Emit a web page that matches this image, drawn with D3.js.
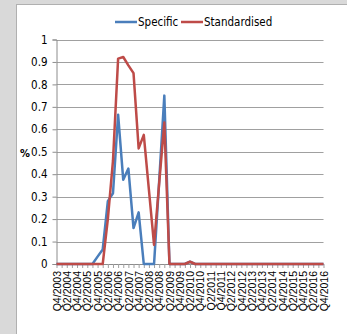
<!DOCTYPE html>
<html>
<head>
<meta charset="utf-8">
<script src="https://cdn.jsdelivr.net/npm/d3@7"></script>
<style>
    html, body { margin: 0; padding: 0; background: #d9d9d9; }
    svg { display: block; }
</style>
</head>
<body>
<svg id="chart" width="347" height="334"></svg>
<script>
// quarters on the category axis
const quarters = [
    "Q4/2003",
    "Q1/2004", "Q2/2004", "Q3/2004", "Q4/2004",
    "Q1/2005", "Q2/2005", "Q3/2005", "Q4/2005",
    "Q1/2006", "Q2/2006", "Q3/2006", "Q4/2006",
    "Q1/2007", "Q2/2007", "Q3/2007", "Q4/2007",
    "Q1/2008", "Q2/2008", "Q3/2008", "Q4/2008",
    "Q1/2009", "Q2/2009", "Q3/2009", "Q4/2009",
    "Q1/2010", "Q2/2010", "Q3/2010", "Q4/2010",
    "Q1/2011", "Q2/2011", "Q3/2011", "Q4/2011",
    "Q1/2012", "Q2/2012", "Q3/2012", "Q4/2012",
    "Q1/2013", "Q2/2013", "Q3/2013", "Q4/2013",
    "Q1/2014", "Q2/2014", "Q3/2014", "Q4/2014",
    "Q1/2015", "Q2/2015", "Q3/2015", "Q4/2015",
    "Q1/2016", "Q2/2016", "Q3/2016", "Q4/2016"
];

const specific = [
    0, 0, 0, 0, 0, 0, 0, 0, 0.033, 0.065,
    0.28, 0.315, 0.665, 0.375, 0.425, 0.16, 0.23, 0, 0, 0,
    0.37, 0.75, 0, 0, 0, 0, 0.01, 0, 0, 0,
    0, 0, 0, 0, 0, 0, 0, 0, 0, 0,
    0, 0, 0, 0, 0, 0, 0, 0, 0, 0,
    0, 0, 0
];

const standardised = [
    0, 0, 0, 0, 0, 0, 0, 0, 0, 0,
    0.2, 0.46, 0.915, 0.922, 0.885, 0.85, 0.515, 0.575, 0.33, 0.085,
    0.36, 0.63, 0, 0, 0, 0, 0.01, 0, 0, 0,
    0, 0, 0, 0, 0, 0, 0, 0, 0, 0,
    0, 0, 0, 0, 0, 0, 0, 0, 0, 0,
    0, 0, 0
];

const yTicks = [0, 0.1, 0.2, 0.3, 0.4, 0.5, 0.6, 0.7, 0.8, 0.9, 1];

const seriesList = [
    { name: "Specific", values: specific, color: "#4a7ebb" },
    { name: "Standardised", values: standardised, color: "#be4b48" }
];

const svg = d3.select("svg#chart");

// chart area (white) over the grey page
svg.append("rect")
    .attr("x", 16.5).attr("y", 4.5)
    .attr("width", 340).attr("height", 340)
    .style("fill", "#ffffff")
    .style("stroke", "#b0b0b0")
    .style("stroke-width", 1);

const area = { left: 56.5, right: 323.5, top: 39.5, bottom: 264 };

const scX = d3.scalePoint()
    .domain(quarters)
    .range([area.left, area.right]);

const scY = d3.scaleLinear()
    .domain([0, 1])
    .range([area.bottom, area.top]);

// gridlines
svg.append("g")
    .selectAll("line")
    .data(yTicks.filter(d => d > 0))
    .enter()
    .append("line")
    .attr("x1", area.left)
    .attr("x2", area.right)
    .attr("y1", d => Math.round(scY(d)) + 0.5)
    .attr("y2", d => Math.round(scY(d)) + 0.5)
    .style("stroke", "#a0a0a0")
    .style("stroke-width", 1.2);

// y axis
const axisY = d3.axisLeft(scY)
    .tickValues(yTicks)
    .tickSize(4)
    .tickPadding(5)
    .tickFormat(d => d3.format("")(d));

const gY = svg.append("g")
    .attr("transform", `translate(${area.left},0)`)
    .call(axisY);
gY.select(".domain").style("stroke", "#8c8c8c");
gY.selectAll(".tick line").style("stroke", "#8c8c8c");
gY.selectAll(".tick text")
    .style("font-family", "'Liberation Sans Narrow', 'DejaVu Sans Condensed', sans-serif")
    .style("font-size", "11.5px")
    .style("fill", "#000");

// x axis
const axisX = d3.axisBottom(scX)
    .tickSize(4)
    .tickPadding(4)
    .tickFormat((d, i) => (i % 2 === 0 ? d : ""));

const gX = svg.append("g")
    .attr("transform", `translate(0,${area.bottom})`)
    .call(axisX);
gX.select(".domain").attr("d", `M${area.left},0.5H${area.right}`)
    .style("stroke", "#8c8c8c");
gX.selectAll(".tick line").style("stroke", "#a0a0a0");
gX.selectAll(".tick text")
    .style("text-anchor", "end")
    .style("font-family", "'Liberation Sans', Arial, sans-serif")
    .style("font-size", "10.5px")
    .style("fill", "#000")
    .attr("x", -7)
    .attr("y", 0)
    .attr("dy", "0.35em")
    .attr("transform", "rotate(-90)");

// y axis title
svg.append("text")
    .attr("x", 25)
    .attr("y", 157)
    .attr("text-anchor", "middle")
    .style("font-family", "'Liberation Sans Narrow', 'DejaVu Sans Condensed', sans-serif")
    .style("font-size", "11px")
    .style("font-weight", "bold")
    .text("%");

// lines
const line = d3.line()
    .x((d, i) => scX(quarters[i]))
    .y(d => scY(d));

svg.selectAll(".series")
    .data(seriesList)
    .enter()
    .append("path")
    .attr("class", "series")
    .attr("d", d => line(d.values))
    .style("fill", "none")
    .style("stroke", d => d.color)
    .style("stroke-width", 2.5)
    .style("stroke-linejoin", "round");

// legend
const legendX = [115, 181];
const legend = svg.selectAll(".legend")
    .data(seriesList)
    .enter()
    .append("g")
    .attr("class", "legend")
    .attr("transform", (d, i) => `translate(${legendX[i]},22)`);

legend.append("line")
    .attr("x1", 0).attr("x2", 22)
    .attr("y1", 0).attr("y2", 0)
    .style("stroke", d => d.color)
    .style("stroke-width", 2.5);

legend.append("text")
    .attr("x", 23)
    .attr("y", 0)
    .attr("dy", "0.35em")
    .style("font-family", "'Liberation Sans Narrow', 'DejaVu Sans Condensed', sans-serif")
    .style("font-size", "11.5px")
    .text(d => d.name);
</script>
</body>
</html>
